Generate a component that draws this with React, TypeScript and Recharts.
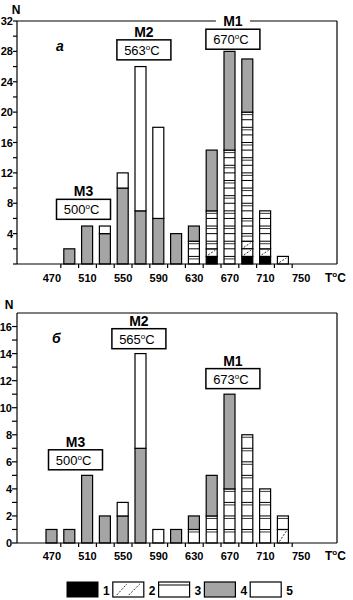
import React from 'react';
import { BarChart, Bar, XAxis, YAxis, ReferenceDot, Label, CartesianGrid } from 'recharts';

const temps = [470, 490, 510, 530, 550, 570, 590, 610, 630, 650, 670, 690, 710, 730, 750];

// panel а
const aBlack = [0, 0, 0, 0, 0, 0, 0, 0, 0, 1, 0, 1, 1, 0, 0];
const aHatched = [0, 0, 0, 0, 0, 0, 0, 0, 0, 1, 0, 2, 1, 1, 0];
const aLined = [0, 0, 0, 0, 0, 0, 0, 0, 3, 5, 15, 17, 5, 0, 0];
const aGray = [0, 2, 5, 4, 10, 7, 6, 4, 2, 8, 13, 7, 0, 0, 0];
const aWhite = [0, 0, 0, 1, 2, 19, 12, 0, 0, 0, 0, 0, 0, 0, 0];

// panel б
const bBlack = [0, 0, 0, 0, 0, 0, 0, 0, 0, 0, 0, 0, 0, 0, 0];
const bHatched = [0, 0, 0, 0, 0, 0, 0, 0, 0, 0, 0, 0, 0, 1, 0];
const bLined = [0, 0, 0, 0, 0, 0, 0, 0, 1, 2, 4, 8, 4, 1, 0];
const bGray = [1, 1, 5, 2, 2, 7, 0, 1, 1, 3, 7, 0, 0, 0, 0];
const bWhite = [0, 0, 0, 0, 1, 7, 1, 0, 0, 0, 0, 0, 0, 0, 0];

const peakNames = ['M3', 'M2', 'M1'];
const peakTempsA = ['500', '563', '670'];
const peakTempsB = ['500', '565', '673'];
const legendItems = ['1', '2', '3', '4', '5'];

const GRAY = '#a5a5a5';
const FONT = '"Liberation Sans", Arial, sans-serif';
const HALF_BAND = 8.9;

const build = (bl: number[], ha: number[], li: number[], gr: number[], wh: number[]) =>
  temps.map((t, i) => ({ t, black: bl[i], hatched: ha[i], lined: li[i], gray: gr[i], white: wh[i] }));

const dataA = build(aBlack, aHatched, aLined, aGray, aWhite);
const dataB = build(bBlack, bHatched, bLined, bGray, bWhite);

const solid = (fill: string) => (p: any) =>
  p.height > 0 ? (
    <rect x={p.x} y={p.y} width={p.width} height={p.height} fill={fill} stroke="#000" strokeWidth={1.2} />
  ) : null;

const lined = (p: any) => {
  const n = p.payload.lined;
  if (!n || !(p.height > 0)) return null;
  const u = p.height / n;
  const rows: any[] = [];
  for (let i = 0; i < n; i++) {
    const yy = p.y + i * u;
    if (i > 0) rows.push(<line key={'a' + i} x1={p.x} x2={p.x + p.width} y1={yy} y2={yy} stroke="#000" strokeWidth={1} />);
    if (u > 10 || i % 2 === 0) {
      const y2 = yy + Math.min(2.5, u / 3);
      rows.push(<line key={'b' + i} x1={p.x} x2={p.x + p.width} y1={y2} y2={y2} stroke="#000" strokeWidth={0.8} />);
    }
  }
  return (
    <g>
      <rect x={p.x} y={p.y} width={p.width} height={p.height} fill="#fff" stroke="#000" strokeWidth={1.2} />
      {rows}
    </g>
  );
};

const hatched = (p: any) => {
  const n = p.payload.hatched;
  if (!n || !(p.height > 0)) return null;
  const u = p.height / n;
  const cells: any[] = [];
  for (let i = 0; i < n; i++) {
    const yy = p.y + i * u;
    cells.push(
      <g key={i}>
        <rect x={p.x} y={yy} width={p.width} height={u} fill="#fff" stroke="#000" strokeWidth={1.2} />
        <line x1={p.x + 2} y1={yy + u - 1.5} x2={p.x + p.width - 2} y2={yy + 1.5} stroke="#000" strokeWidth={0.8} strokeDasharray="2 1.5" />
      </g>
    );
  }
  return <g>{cells}</g>;
};

const YTick = (props: any) => {
  const { x, y, payload, step, showZero, tickLen, gap } = props;
  const v = payload.value;
  const show = v % step === 0 && (v !== 0 || showZero);
  return (
    <g>
      <line x1={x - tickLen} x2={x} y1={y} y2={y} stroke="#000" strokeWidth={1.2} />
      {show && (
        <text x={x - gap} y={y} dy={4} textAnchor="end" fontFamily={FONT} fontWeight="bold" fontSize={11} fill="#000">
          {v}
        </text>
      )}
    </g>
  );
};

const XTick = (props: any) => {
  const { x, y, payload, labelDy } = props;
  const v = payload.value;
  return (
    <g>
      {v !== 750 && <line x1={x + HALF_BAND} x2={x + HALF_BAND} y1={y} y2={y + 4} stroke="#000" strokeWidth={1.2} />}
      {(v - 470) % 40 === 0 && (
        <text x={x} y={y + labelDy} textAnchor="middle" fontFamily={FONT} fontWeight="bold" fontSize={11} fill="#000">
          {v}
        </text>
      )}
    </g>
  );
};

const PeakMark = (props: any) => {
  const { cx, cy, name, temp, dx, cover } = props;
  const bx = cx + dx;
  return (
    <g>
      {cover && <rect x={bx - 17} y={cy - 27} width={34} height={14} fill="#fff" />}
      <text x={bx} y={cy - 13} textAnchor="middle" fontFamily={FONT} fontWeight="bold" fontSize={14} fill="#000">
        {name}
      </text>
      <rect x={bx - 27} y={cy - 10} width={54} height={20} fill="#fff" stroke="#000" strokeWidth={1.5} />
      <text x={bx - 2} y={cy + 5} textAnchor="middle" fontFamily={FONT} fontSize={13} fill="#000">
        {temp}
        <tspan fontSize={8} dy={-5}>o</tspan>
        <tspan dy={5}>C</tspan>
      </text>
    </g>
  );
};

interface PanelProps {
  data: any[];
  height: number;
  top: number;
  bottom: number;
  yMax: number;
  yTicks: number[];
  step: number;
  showZero: boolean;
  tickLen: number;
  gap: number;
  labelDy: number;
  letter: string;
  letterPos: [number, number];
  nPos: [number, number];
  peaks: { at: number; y: number; dx: number; cover?: boolean }[];
  peakTemps: string[];
}

const Panel: React.FC<PanelProps> = (pp) => (
  <BarChart width={353} height={pp.height} data={pp.data} margin={{ top: pp.top, right: 16, left: 0, bottom: pp.bottom }} barSize={11}>
    {/* frame: top and right edges of the plot */}
    <CartesianGrid
      stroke="#000"
      strokeWidth={1.2}
      horizontalCoordinatesGenerator={({ offset }: any) => [offset.top]}
      verticalCoordinatesGenerator={({ offset }: any) => [offset.left + offset.width]}
    />
    <XAxis
      dataKey="t"
      height={20}
      interval={0}
      padding={{ left: 26, right: 27 }}
      axisLine={{ stroke: '#000', strokeWidth: 1.2 }}
      tickLine={false}
      tickSize={0}
      tickMargin={0}
      tick={(p: any) => <XTick {...p} labelDy={pp.labelDy} />}
    >
      <Label
        content={(lp: any) => {
          const vb = lp.viewBox || {};
          const x0 = vb.x + vb.width - 12;
          const y0 = vb.y + pp.labelDy;
          return (
            <text x={x0} y={y0} fontFamily={FONT} fontWeight="bold" fontSize={12} fill="#000">
              T<tspan fontSize={8} dy={-5}>o</tspan>
              <tspan dy={5}>C</tspan>
            </text>
          );
        }}
      />
    </XAxis>
    <YAxis
      width={17}
      domain={[0, pp.yMax]}
      ticks={pp.yTicks}
      interval={0}
      axisLine={{ stroke: '#000', strokeWidth: 1.2 }}
      tickLine={false}
      tickSize={0}
      tickMargin={0}
      tick={(p: any) => <YTick {...p} step={pp.step} showZero={pp.showZero} tickLen={pp.tickLen} gap={pp.gap} />}
    >
      <Label
        content={(lp: any) => {
          const vb = lp.viewBox || {};
          return (
            <g>
              <text x={vb.x + pp.nPos[0]} y={vb.y + pp.nPos[1]} textAnchor="middle" fontFamily={FONT} fontWeight="bold" fontSize={12} fill="#000">
                N
              </text>
              <text x={vb.x + pp.letterPos[0]} y={vb.y + pp.letterPos[1]} fontFamily={FONT} fontStyle="italic" fontWeight="bold" fontSize={14} fill="#000">
                {pp.letter}
              </text>
            </g>
          );
        }}
      />
    </YAxis>
    <Bar dataKey="black" stackId="s" isAnimationActive={false} shape={solid('#000')} />
    <Bar dataKey="hatched" stackId="s" isAnimationActive={false} shape={hatched} />
    <Bar dataKey="lined" stackId="s" isAnimationActive={false} shape={lined} />
    <Bar dataKey="gray" stackId="s" isAnimationActive={false} shape={solid(GRAY)} />
    <Bar dataKey="white" stackId="s" isAnimationActive={false} shape={solid('#fff')} />
    {pp.peaks.map((pk, i) => (
      <ReferenceDot
        key={i}
        x={pk.at}
        y={pk.y}
        ifOverflow="visible"
        shape={(sp: any) => <PeakMark {...sp} name={peakNames[i]} temp={pp.peakTemps[i]} dx={pk.dx} cover={pk.cover} />}
      />
    ))}
  </BarChart>
);

const Legend5: React.FC = () => (
  <svg width={353} height={22} style={{ position: 'absolute', left: 0, top: 579 }}>
    {legendItems.map((lab, i) => {
      const x = 67 + i * 45.8;
      return (
        <g key={lab}>
          {i === 0 && <rect x={x} y={3} width={31} height={15} fill="#000" stroke="#000" />}
          {i === 1 && (
            <g>
              <rect x={x} y={3} width={31} height={15} fill="#fff" stroke="#000" strokeWidth={1.2} />
              <line x1={x + 4} y1={16} x2={x + 14} y2={5} stroke="#000" strokeWidth={0.8} strokeDasharray="2 1.5" />
              <line x1={x + 16} y1={16} x2={x + 27} y2={5} stroke="#000" strokeWidth={0.8} strokeDasharray="2 1.5" />
            </g>
          )}
          {i === 2 && (
            <g>
              <rect x={x} y={3} width={31} height={15} fill="#fff" stroke="#000" strokeWidth={1.2} />
              <line x1={x} y1={6} x2={x + 31} y2={6} stroke="#000" strokeWidth={1} />
            </g>
          )}
          {i === 3 && <rect x={x} y={3} width={31} height={15} fill={GRAY} stroke="#000" strokeWidth={1.2} />}
          {i === 4 && <rect x={x} y={3} width={31} height={15} fill="#fff" stroke="#000" strokeWidth={1.2} />}
          <text x={x + 36} y={16} fontFamily={FONT} fontWeight="bold" fontSize={12} fill="#000">
            {lab}
          </text>
        </g>
      );
    })}
  </svg>
);

const ticksA = Array.from({ length: 17 }, (_, i) => i * 2);
const ticksB = Array.from({ length: 17 }, (_, i) => i);

export default function App() {
  return (
    <div style={{ position: 'absolute', left: 0, top: 0, width: 353, height: 600, background: '#fff' }}>
      <div style={{ position: 'absolute', left: 0, top: 0 }}>
        <Panel
          data={dataA}
          height={290}
          top={21}
          bottom={6}
          yMax={32}
          yTicks={ticksA}
          step={4}
          showZero={false}
          tickLen={4}
          gap={4}
          labelDy={18}
          letter="а"
          letterPos={[56, 30]}
          nPos={[16, -7]}
          peaks={[
            { at: 510, y: 7.2, dx: -4 },
            { at: 570, y: 28.2, dx: 3 },
            { at: 670, y: 29.6, dx: 3, cover: true },
          ]}
          peakTemps={peakTempsA}
        />
      </div>
      <div style={{ position: 'absolute', left: 0, top: 290 }}>
        <Panel
          data={dataB}
          height={275}
          top={23}
          bottom={2}
          yMax={17}
          yTicks={ticksB}
          step={2}
          showZero={true}
          tickLen={5}
          gap={5}
          labelDy={17}
          letter="б"
          letterPos={[52, 30]}
          nPos={[9, -4]}
          peaks={[
            { at: 510, y: 6.15, dx: -12 },
            { at: 570, y: 15.1, dx: -2 },
            { at: 670, y: 12.15, dx: 3 },
          ]}
          peakTemps={peakTempsB}
        />
      </div>
      <Legend5 />
    </div>
  );
}
